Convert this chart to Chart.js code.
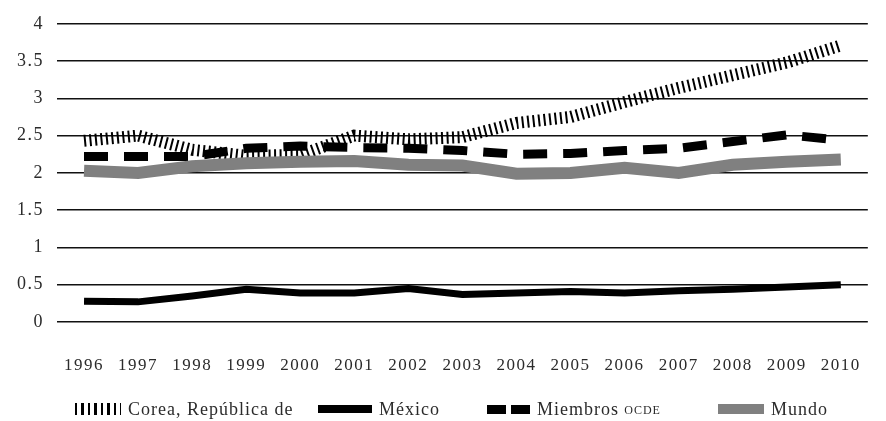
<!DOCTYPE html>
<html>
<head>
<meta charset="utf-8">
<script src="https://cdn.jsdelivr.net/npm/chart.js@4"></script>
<style>
  html, body { margin:0; padding:0; background:#fff; }
  #wrap { position:relative; width:886px; height:421px; }
  #legend { position:absolute; left:0; top:398px; width:886px; height:22px;
    font-family:"Liberation Serif", serif; font-size:18px; color:#2b2b2b; letter-spacing:1px; }
  .item { position:absolute; top:0; display:flex; align-items:center; height:22px; white-space:nowrap; }
  .sym { display:inline-block; margin-right:7px; }
  .hatch { width:46px; height:12px;
    background:repeating-linear-gradient(90deg,#000 0 2.5px,transparent 2.5px 6.5px); }
  .solid { width:54px; height:8px; background:#000; }
  .dash { width:19px; height:9px; background:#000; margin-right:5px; }
  .grey { width:46px; height:10px; background:#808080; }
  .sc { font-variant:small-caps; font-size:17px; }
</style>
</head>
<body>
<div id="wrap">
  <canvas id="c" width="886" height="421"></canvas>
  <div id="legend">
    <span class="item" style="left:75px"><span class="sym hatch"></span>Corea, República de</span>
    <span class="item" style="left:318px"><span class="sym solid"></span>México</span>
    <span class="item" style="left:487px"><span class="sym dash"></span><span class="sym dash" style="margin-right:7px"></span>Miembros <span class="sc">&nbsp;ocde</span></span>
    <span class="item" style="left:718px"><span class="sym grey"></span>Mundo</span>
  </div>
</div>
<script>
// years and series
const years = ["1996","1997","1998","1999","2000","2001","2002","2003","2004","2005","2006","2007","2008","2009","2010"];
const corea    = [2.43, 2.50, 2.31, 2.23, 2.24, 2.50, 2.45, 2.48, 2.67, 2.75, 2.95, 3.14, 3.31, 3.48, 3.71];
const mexico   = [0.28, 0.27, 0.35, 0.44, 0.39, 0.39, 0.45, 0.37, 0.39, 0.41, 0.39, 0.42, 0.44, 0.47, 0.50];
const ocde     = [2.22, 2.22, 2.22, 2.33, 2.36, 2.34, 2.33, 2.30, 2.25, 2.26, 2.30, 2.33, 2.42, 2.51, 2.44];
const mundo    = [2.03, 2.00, 2.09, 2.13, 2.15, 2.16, 2.11, 2.10, 1.99, 2.00, 2.07, 2.00, 2.11, 2.15, 2.18];

const FONT = "'Liberation Serif', serif";

// canvas text spacing, the reference figures are set loose
const spacing = {
  id:"spacing",
  beforeUpdate(c){ c.ctx.letterSpacing = "1.5px"; },
  beforeDraw(c){ c.ctx.letterSpacing = "1.5px"; },
};

new Chart(document.getElementById("c"), {
  type:"line",
  data:{labels:years, datasets:[
    {label:"Corea, República de", data:corea, borderColor:"#000", borderWidth:12,
     borderDash:[2,3.5], order:4},
    {label:"México", data:mexico, borderColor:"#000", borderWidth:7, order:3},
    {label:"Miembros OCDE", data:ocde, borderColor:"#000", borderWidth:9,
     borderDash:[24,16], order:2},
    {label:"Mundo", data:mundo, borderColor:"#808080", borderWidth:12, order:1},
  ]},
  options:{
    responsive:false, animation:false,
    layout:{padding:{top:10, right:6, bottom:0, left:0}},
    elements:{point:{radius:0}, line:{tension:0, fill:false}},
    plugins:{legend:{display:false}, tooltip:{enabled:false}},
    scales:{
      x:{offset:true, grid:{display:false}, border:{display:false},
         ticks:{padding:25, color:"#2b2b2b", font:{family:FONT, size:17}, maxRotation:0},
         afterFit:s => { s.height = 99; }},
      y:{min:0, max:4, border:{display:false},
         grid:{color:"#111", lineWidth:1.5, drawTicks:false},
         ticks:{stepSize:0.5, padding:13, color:"#2b2b2b", font:{family:FONT, size:18},
                callback:v => String(v)},
         afterFit:s => { s.width = 57; }},
    },
  },
  plugins:[spacing],
});
</script>
</body>
</html>
